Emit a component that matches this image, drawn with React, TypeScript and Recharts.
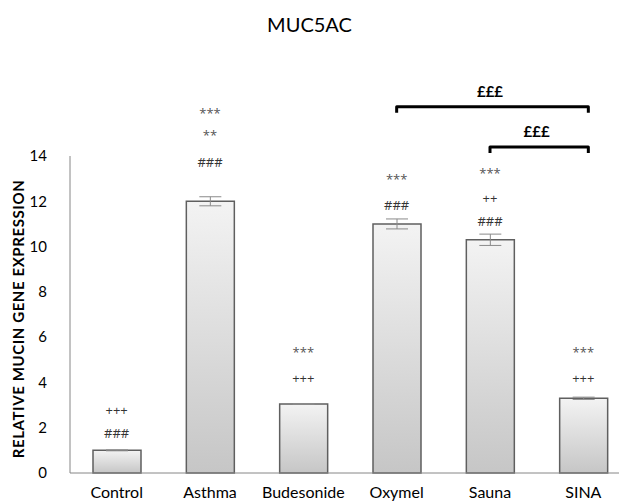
import { Bar, BarChart, ErrorBar, ReferenceDot, ReferenceLine, XAxis, YAxis } from "recharts";

const groups = ["Control", "Asthma", "Budesonide", "Oxymel", "Sauna", "SINA"];
const expression = [1.0, 12.0, 3.05, 11.0, 10.3, 3.3];
const sem = [0.02, 0.2, 0.02, 0.22, 0.25, 0.05];
const yTicks = [0, 2, 4, 6, 8, 10, 12, 14];

// significance marks above each bar: group, text, level (in y units)
const marks = [
  { group: "Control", text: "+++", level: 2.78 },
  { group: "Control", text: "###", level: 1.77 },
  { group: "Asthma", text: "***", level: 15.9 },
  { group: "Asthma", text: "**", level: 14.9 },
  { group: "Asthma", text: "###", level: 13.74 },
  { group: "Budesonide", text: "***", level: 5.34 },
  { group: "Budesonide", text: "+++", level: 4.2 },
  { group: "Oxymel", text: "***", level: 12.97 },
  { group: "Oxymel", text: "###", level: 11.84 },
  { group: "Sauna", text: "***", level: 13.25 },
  { group: "Sauna", text: "++", level: 12.15 },
  { group: "Sauna", text: "###", level: 11.13 },
  { group: "SINA", text: "***", level: 5.34 },
  { group: "SINA", text: "+++", level: 4.2 },
];

const brackets = [
  { from: "Oxymel", to: "SINA", text: "£££", level: 16.17 },
  { from: "Sauna", to: "SINA", text: "£££", level: 14.4 },
];

const data = groups.map((g, i) => ({ group: g, value: expression[i], err: sem[i] }));

const font = "Lato, 'Open Sans', sans-serif";

const Bracket = (props: any) => {
  const { x1, y1, x2 } = props;
  return (
    <path
      d={`M${x1},${y1 + 6} V${y1} H${x2 + 5} V${y1 + 6}`}
      fill="none"
      stroke="#000"
      strokeWidth={3}
      strokeLinejoin="round"
    />
  );
};

export default function App() {
  return (
    <div
      style={{
        position: "fixed",
        left: 0,
        top: 0,
        width: 619,
        height: 504,
        overflow: "hidden",
        background: "#fff",
        fontFamily: font,
      }}
    >
      <div
        style={{
          position: "absolute",
          top: 12,
          left: 0,
          width: 619,
          textAlign: "center",
          fontSize: 20,
          color: "#000",
        }}
      >
        MUC5AC
      </div>
      <div
        style={{
          position: "absolute",
          left: 18,
          top: 319,
          transform: "translate(-50%, -50%) rotate(-90deg)",
          whiteSpace: "nowrap",
          fontSize: 15,
          letterSpacing: 0.6,
          fontWeight: 700,
          color: "#000",
        }}
      >
        RELATIVE MUCIN GENE EXPRESSION
      </div>
      <div style={{ position: "absolute", left: 0, top: 0 }}>
        <BarChart
          width={640}
          height={504}
          data={data}
          margin={{ top: 156, right: 10, left: 30, bottom: 1 }}
        >
          <defs>
            <linearGradient id="barFill" x1="0" y1="0" x2="0" y2="1">
              <stop offset="0%" stopColor="#f3f3f3" />
              <stop offset="100%" stopColor="#c6c6c6" />
            </linearGradient>
          </defs>
          <XAxis
            dataKey="group"
            height={30}
            tickLine={false}
            tickMargin={8}
            axisLine={{ stroke: "#868686" }}
            tick={{ fill: "#000", fontSize: 16, fontFamily: font }}
            interval={0}
          />
          <YAxis
            width={40}
            domain={[0, 14]}
            ticks={yTicks}
            tickLine={false}
            tickMargin={17}
            axisLine={{ stroke: "#868686" }}
            tick={{ fill: "#000", fontSize: 15, fontFamily: font }}
          />
          <Bar
            dataKey="value"
            barSize={48}
            fill="url(#barFill)"
            stroke="#5f5f5f"
            strokeWidth={1.5}
            isAnimationActive={false}
          >
            <ErrorBar dataKey="err" width={11} stroke="#8a8a8a" strokeWidth={1} />
          </Bar>
          {marks.map((m, i) => (
            <ReferenceDot
              key={i}
              x={m.group}
              y={m.level}
              r={0}
              ifOverflow="visible"
              label={{
                value: m.text,
                position: "center",
                fill: m.text.startsWith("*") ? "#555" : "#333",
                fontSize: 13,
                fontFamily: "'Open Sans', sans-serif",
              }}
            />
          ))}
          {brackets.map((b, i) => (
            <ReferenceLine
              key={i}
              segment={[
                { x: b.from, y: b.level },
                { x: b.to, y: b.level },
              ]}
              ifOverflow="visible"
              shape={Bracket}
              label={{
                value: b.text,
                position: "top",
                offset: 10,
                fill: "#000",
                fontSize: 15,
                fontWeight: 700,
                fontFamily: font,
              }}
            />
          ))}
        </BarChart>
      </div>
    </div>
  );
}
